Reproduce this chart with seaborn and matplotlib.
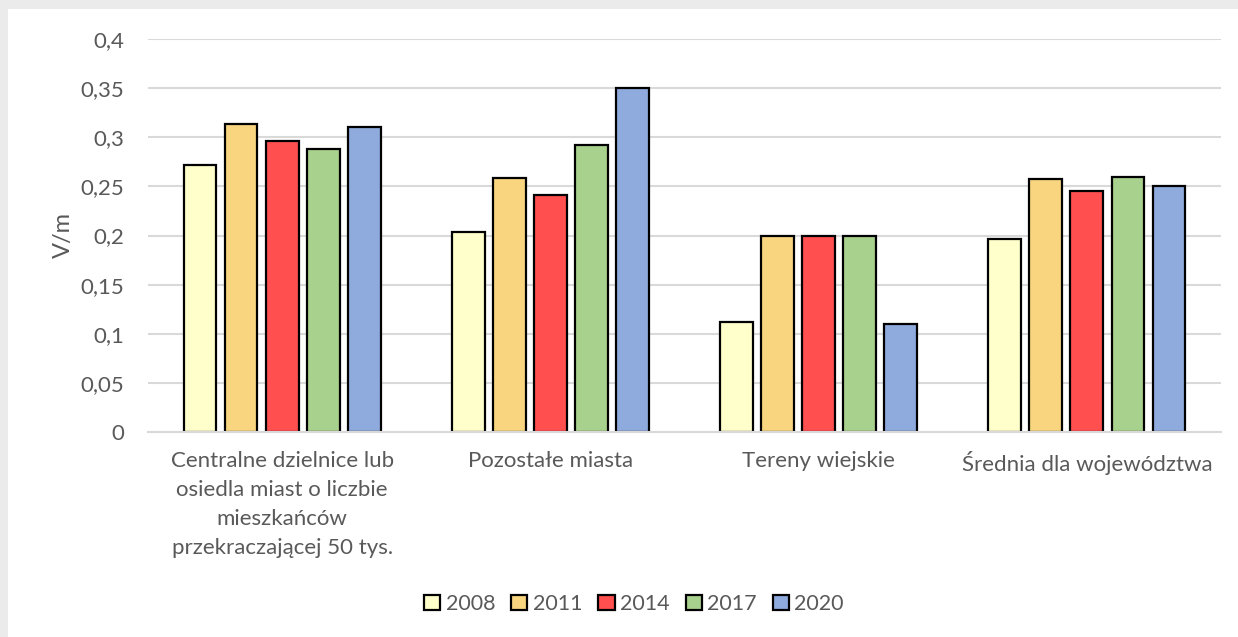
import matplotlib
matplotlib.use("Agg")
import matplotlib.pyplot as plt
import matplotlib.patches as mpatches
import seaborn as sns
import pandas as pd

categories = [
    "Centralne dzielnice lub\nosiedla miast o liczbie\nmieszkańców\nprzekraczającej 50 tys.",
    "Pozostałe miasta",
    "Tereny wiejskie",
    "Średnia dla województwa",
]
years = ["2008", "2011", "2014", "2017", "2020"]
v2008 = [0.272, 0.204, 0.112, 0.196]
v2011 = [0.313, 0.259, 0.200, 0.257]
v2014 = [0.296, 0.241, 0.200, 0.245]
v2017 = [0.288, 0.292, 0.200, 0.260]
v2020 = [0.310, 0.350, 0.110, 0.250]
yticks = [0, 0.05, 0.1, 0.15, 0.2, 0.25, 0.3, 0.35, 0.4]
ytick_labels = ["0", "0,05", "0,1", "0,15", "0,2", "0,25", "0,3", "0,35", "0,4"]
colors = ["#ffffcc", "#f9d57f", "#ff4f4f", "#a9d18e", "#8faadc"]

series = [v2008, v2011, v2014, v2017, v2020]
rows = []
for y, vals in zip(years, series):
    for c, v in zip(categories, vals):
        rows.append({"cat": c, "year": y, "val": v})
df = pd.DataFrame(rows)

sns.set_theme(style="white")
plt.rcParams["font.family"] = ["Lato", "DejaVu Sans"]
txt = "#595959"

W, H = 1238, 637
fig = plt.figure(figsize=(W / 100, H / 100), dpi=100)
fig.patch.set_facecolor("#ebebeb")
fig.add_artist(mpatches.Rectangle((8 / W, 0), 1, (H - 9) / H, transform=fig.transFigure,
                                  facecolor="white", edgecolor="none", zorder=0))

x0, x1, ytop, ybot = 148, 1221, 39, 432
ax = fig.add_axes([x0 / W, 1 - ybot / H, (x1 - x0) / W, (ybot - ytop) / H])
ax.set_facecolor("none")

sns.barplot(data=df, x="cat", y="val", hue="year", hue_order=years, palette=colors,
            width=0.765, gap=0.2, edgecolor="black", linewidth=1.6, ax=ax, legend=True,
            errorbar=None, saturation=1)

ax.set_ylim(0, 0.4)
ax.set_yticks(yticks)
ax.set_yticklabels(ytick_labels)
ax.set_xlim(-0.5, 3.5)
ax.yaxis.grid(True, color="#d9d9d9", linewidth=1.5)
ax.set_axisbelow(True)
for s in ["top", "right", "left"]:
    ax.spines[s].set_visible(False)
ax.spines["bottom"].set_color("#d9d9d9")
ax.spines["bottom"].set_linewidth(1.5)
ax.tick_params(axis="y", length=0, pad=17, labelsize=16, labelcolor=txt)
ax.tick_params(axis="x", length=0, pad=14, labelsize=16, labelcolor=txt)
for lab in ax.get_xticklabels():
    lab.set_linespacing(1.55)
ax.set_xlabel("")
ax.set_ylabel("V/m", fontsize=17, color=txt, labelpad=5)

leg = ax.legend(loc="center", bbox_to_anchor=((634 - x0) / (x1 - x0), (ybot - 604) / (ybot - ytop)),
                ncol=5, frameon=False, fontsize=15.5, handlelength=0.75, handleheight=0.75,
                handletextpad=0.25, columnspacing=0.75, labelcolor=txt)
for h in leg.legend_handles:
    h.set_linewidth(1.6)
    h.set_edgecolor("black")

fig.savefig("out.png", dpi=100, facecolor=fig.get_facecolor())
